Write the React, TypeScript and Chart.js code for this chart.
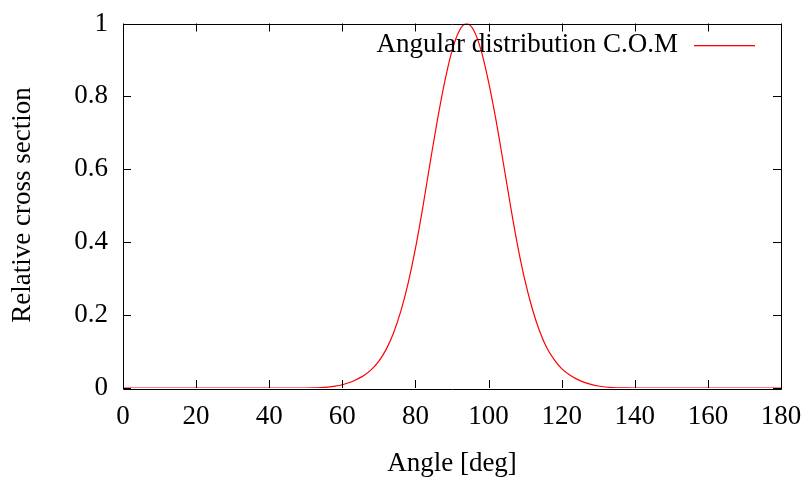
import React, { useEffect, useRef } from 'react';
import { Chart, registerables } from 'chart.js';

Chart.register(...registerables);

const angles = [0, 40, 50, 52, 54, 56, 58, 60, 62, 64, 66, 68, 70, 72, 74, 76, 78, 80, 82, 84, 86, 88, 90, 92, 94, 96, 98, 100, 102, 104, 106, 108, 110, 112, 114, 116, 118, 120, 122, 124, 126, 128, 130, 132, 134, 136, 138, 140, 150, 180];
const crossSection = [0, 0, 0, 0.0003, 0.001, 0.0025, 0.005, 0.009, 0.015, 0.024, 0.035, 0.051, 0.074, 0.106, 0.151, 0.211, 0.288, 0.383, 0.495, 0.617, 0.735, 0.84, 0.925, 0.98, 1.0, 0.98, 0.925, 0.84, 0.737, 0.62, 0.5, 0.388, 0.293, 0.216, 0.155, 0.109, 0.077, 0.053, 0.037, 0.025, 0.016, 0.01, 0.0055, 0.0028, 0.0012, 0.0004, 0.0001, 0, 0, 0];

const xTicks = [0, 20, 40, 60, 80, 100, 120, 140, 160, 180];
const xTickLabels = ['0', '20', '40', '60', '80', '100', '120', '140', '160', '180'];
const yTicks = [0, 0.2, 0.4, 0.6, 0.8, 1];
const yTickLabels = ['0', '0.2', '0.4', '0.6', '0.8', '1'];
const seriesLabel = 'Angular distribution C.O.M';
const xTitle = 'Angle [deg]';
const yTitle = 'Relative cross section';

const FONT = '27px "Liberation Serif", "Times New Roman", serif';
const LINE_COLOR = '#ff0000';

const framePlugin = {
  id: 'gnuplotFrame',
  afterDatasetsDraw(chart: any) {
    const { ctx, chartArea, scales } = chart;
    const xs = scales.x;
    const ys = scales.y;
    const { left, right, top, bottom } = chartArea;
    const tl = 8;
    ctx.save();
    ctx.strokeStyle = '#000';
    ctx.lineWidth = 1;
    ctx.beginPath();
    ctx.rect(Math.round(left) + 0.5, Math.round(top) + 0.5, Math.round(right - left), Math.round(bottom - top));
    ctx.stroke();
    ctx.beginPath();
    xTicks.forEach((v) => {
      const px = Math.round(xs.getPixelForValue(v)) + 0.5;
      ctx.moveTo(px, bottom);
      ctx.lineTo(px, bottom - tl);
      ctx.moveTo(px, top);
      ctx.lineTo(px, top + tl);
    });
    yTicks.forEach((v) => {
      const py = Math.round(ys.getPixelForValue(v)) + 0.5;
      ctx.moveTo(left, py);
      ctx.lineTo(left + tl, py);
      ctx.moveTo(right, py);
      ctx.lineTo(right - tl, py);
    });
    ctx.stroke();

    ctx.fillStyle = '#000';
    ctx.font = FONT;
    ctx.textAlign = 'center';
    ctx.textBaseline = 'middle';
    xTicks.forEach((v, i) => {
      ctx.fillText(xTickLabels[i], xs.getPixelForValue(v), bottom + 29);
    });
    ctx.textAlign = 'right';
    yTicks.forEach((v, i) => {
      ctx.fillText(yTickLabels[i], left - 15, ys.getPixelForValue(v));
    });
    ctx.textAlign = 'center';
    ctx.fillText(xTitle, (left + right) / 2, bottom + 76);
    ctx.save();
    ctx.translate(23, 205);
    ctx.rotate(-Math.PI / 2);
    ctx.fillText(yTitle, 0, 0);
    ctx.restore();

    // legend (gnuplot style: text then line sample)
    ctx.textAlign = 'right';
    ctx.fillText(seriesLabel, 678, 45);
    ctx.fillStyle = LINE_COLOR;
    ctx.fillRect(694, 45, 61, 1.3);
    ctx.restore();
  },
};

export default function App() {
  const ref = useRef<HTMLCanvasElement>(null);
  useEffect(() => {
    if (!ref.current) return;
    const chart = new Chart(ref.current, {
      type: 'line',
      data: {
        datasets: [
          {
            label: seriesLabel,
            data: angles.map((a, i) => ({ x: a, y: crossSection[i] })),
            borderColor: LINE_COLOR,
            borderWidth: 1.2,
            pointRadius: 0,
            cubicInterpolationMode: 'monotone',
            fill: false,
          },
        ],
      },
      options: {
        responsive: false,
        animation: false,
        events: [],
        layout: { padding: { left: 123, right: 31, top: 23.5, bottom: 92 } },
        plugins: { legend: { display: false }, tooltip: { enabled: false } },
        scales: {
          x: { type: 'linear', min: 0, max: 180, display: false },
          y: { type: 'linear', min: 0, max: 1, display: false },
        },
      },
      plugins: [framePlugin],
    });
    return () => chart.destroy();
  }, []);
  return (
    <div style={{ position: 'fixed', left: 0, top: 0, width: 812, height: 480, background: '#fff' }}>
      <canvas ref={ref} width={812} height={480} style={{ width: 812, height: 480 }} />
    </div>
  );
}
